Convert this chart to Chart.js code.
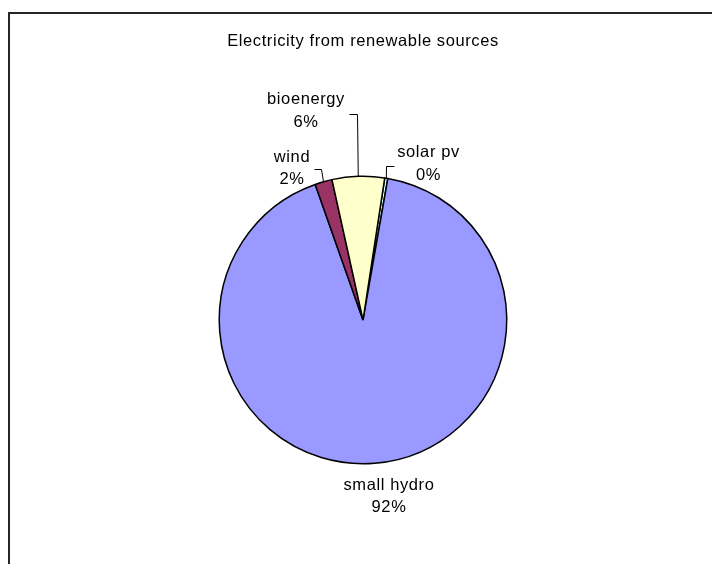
<!DOCTYPE html>
<html>
<head>
<meta charset="utf-8">
<script src="https://cdn.jsdelivr.net/npm/chart.js@4/dist/chart.umd.min.js"></script>
<style>
  html, body { margin: 0; padding: 0; background: #fff; overflow: hidden; }
  #wrap { position: relative; width: 712px; height: 564px; }
  #frame { position: absolute; left: 8px; top: 12px; width: 760px; height: 620px;
           border-left: 2px solid #262626; border-top: 2px solid #262626; }
  canvas { position: absolute; left: 0; top: 0; }
</style>
</head>
<body>
<div id="wrap">
  <div id="frame"></div>
  <canvas id="c" width="712" height="564"></canvas>
</div>
<script>
// ---- data ----
const titleText = "Electricity from renewable sources";
const categories = ["solar pv", "small hydro", "wind", "bioenergy"];
const shares = [0.35, 91.84, 1.93, 5.88];
const sliceColors = ["#CCFFFF", "#9999FF", "#993366", "#FFFFCC"];

// ---- label layout (style only: offsets from pie centre, px) ----
const labelLayout = [
  { dx: 65.5, dy: -156, leader: true, leaderDy: 2, elbowDx: 0 },
  { dx: 26,   dy: 176.5, leader: false },
  { dx: -71,  dy: -151.5, leader: true, leaderDy: 0.5, elbowDx: -3 },
  { dx: -57,  dy: -209, leader: true, leaderDy: 3, elbowDx: -1 }
];

const FONT = '16.5px "Liberation Sans", Arial, sans-serif';
const LINE_H = 22.5;

const titlePlugin = {
  id: 'customTitle',
  afterDraw(chart) {
    const ctx = chart.ctx;
    ctx.save();
    ctx.font = FONT;
    try { ctx.letterSpacing = '0.6px'; } catch (e) {}
    ctx.fillStyle = '#000';
    ctx.textAlign = 'center';
    ctx.textBaseline = 'middle';
    ctx.fillText(titleText, 363, 41);
    ctx.restore();
  }
};

const labelPlugin = {
  id: 'sliceLabels',
  afterDatasetsDraw(chart) {
    const ctx = chart.ctx;
    const meta = chart.getDatasetMeta(0);
    const data = chart.data.datasets[0].data;
    const total = data.reduce((a, b) => a + b, 0);
    ctx.save();
    ctx.font = FONT;
    try { ctx.letterSpacing = '0.6px'; } catch (e) {}
    ctx.fillStyle = '#000';
    ctx.strokeStyle = '#000';
    ctx.lineWidth = 1;
    ctx.textAlign = 'center';
    ctx.textBaseline = 'middle';
    meta.data.forEach((arc, i) => {
      const p = arc.getProps(['x', 'y', 'startAngle', 'endAngle', 'outerRadius'], true);
      const lay = labelLayout[i];
      const cx = p.x + lay.dx, cy = p.y + lay.dy;
      const l1 = chart.data.labels[i];
      const l2 = Math.round(data[i] / total * 100) + '%';
      ctx.fillText(l1, cx, cy - LINE_H / 2);
      ctx.fillText(l2, cx, cy + LINE_H / 2);
      if (lay.leader) {
        const mid = (p.startAngle + p.endAngle) / 2;
        const rx = p.x + Math.cos(mid) * p.outerRadius;
        const ry = p.y + Math.sin(mid) * p.outerRadius;
        const w = Math.max(ctx.measureText(l1).width, ctx.measureText(l2).width);
        const ly = Math.round(cy + lay.leaderDy) + 0.5;
        const ex = Math.round(rx + lay.elbowDx) + 0.5;
        const sx = (cx < rx) ? cx + w / 2 + 4 : cx - w / 2 - 3;
        ctx.beginPath();
        ctx.moveTo(Math.round(sx) + 0.5, ly);
        ctx.lineTo(ex, ly);
        ctx.lineTo(rx, ry);
        ctx.stroke();
      }
    });
    ctx.restore();
  }
};

new Chart(document.getElementById('c'), {
  type: 'pie',
  data: {
    labels: categories,
    datasets: [{
      data: shares,
      backgroundColor: sliceColors,
      borderColor: '#000',
      borderWidth: 1.5,
      hoverOffset: 0
    }]
  },
  options: {
    responsive: false,
    animation: false,
    devicePixelRatio: 1,
    rotation: 8.7,
    layout: { padding: { top: 175.5, bottom: 99.5, left: 218.5, right: 204.5 } },
    plugins: {
      legend: { display: false },
      title: { display: false },
      tooltip: { enabled: false }
    }
  },
  plugins: [labelPlugin, titlePlugin]
});
</script>
</body>
</html>
